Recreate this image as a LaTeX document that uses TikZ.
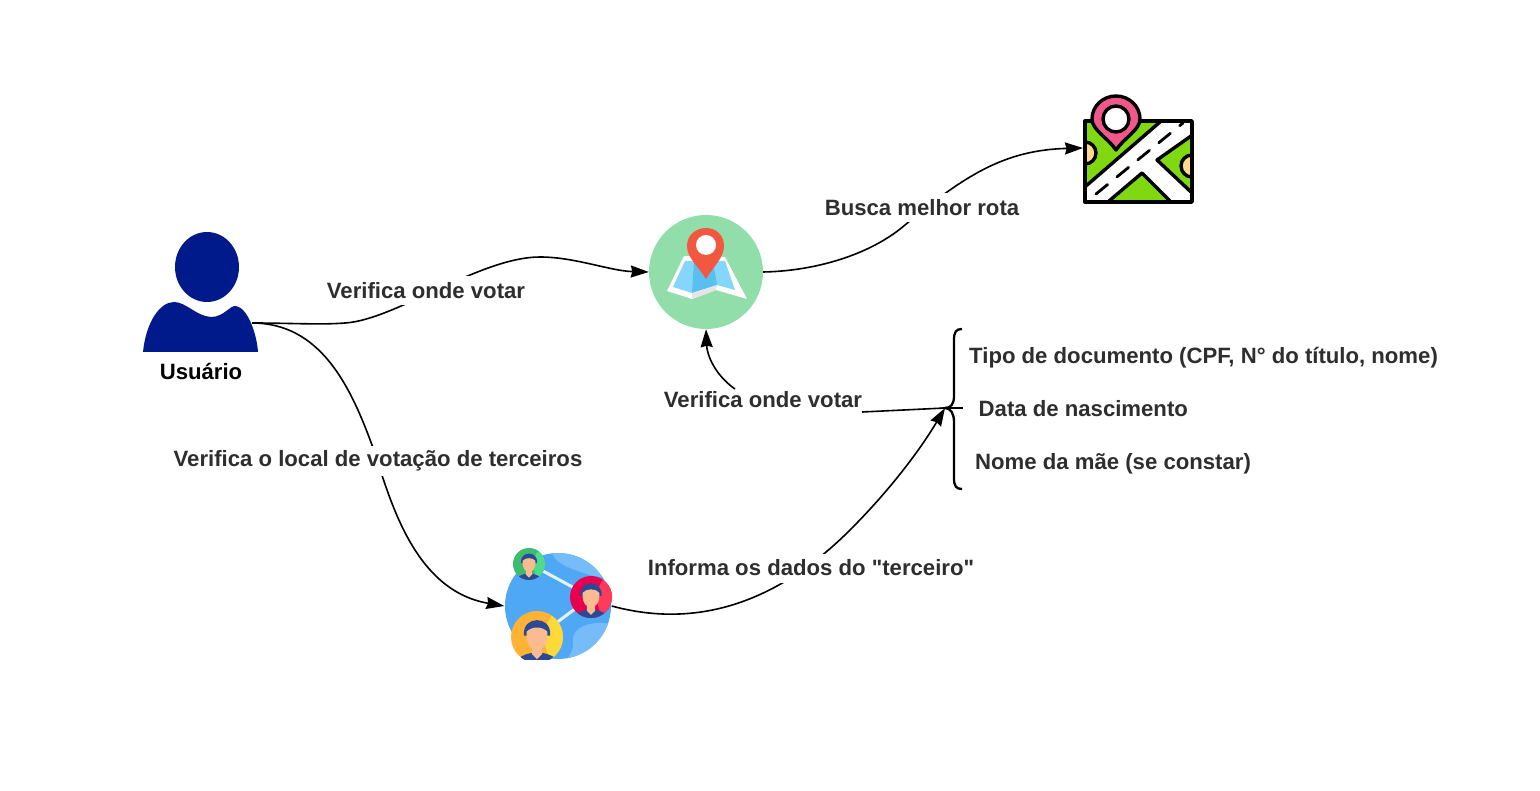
\documentclass[tikz,border=0pt]{standalone}
\usepackage{fontspec}
\setmainfont{Liberation Sans}
\newfontfamily\plainquote{Liberation Sans}
\usetikzlibrary{arrows.meta}
\definecolor{txt}{HTML}{2E2E2E}
\definecolor{navy}{HTML}{001A8C}
\definecolor{mapgreen}{HTML}{91DEAA}
\definecolor{pinred}{HTML}{F4573F}
\definecolor{sky}{HTML}{84D6FC}
\definecolor{sky2}{HTML}{59BFEE}
\definecolor{grass}{HTML}{80D810}
\definecolor{pink}{HTML}{F0578A}
\definecolor{sand}{HTML}{FCD98F}
\definecolor{globe}{HTML}{4FA8F6}
\definecolor{globe2}{HTML}{76BCF8}
\definecolor{skin}{HTML}{F9BB8F}
\definecolor{hair}{HTML}{2C4A94}
\definecolor{pgreen}{HTML}{3DBB6E}
\definecolor{pgreenl}{HTML}{4FDC8A}
\definecolor{pred}{HTML}{E6004F}
\definecolor{predl}{HTML}{FF3B5C}
\definecolor{pora}{HTML}{FFB233}
\definecolor{pyel}{HTML}{FFD93B}
\tikzset{
 lbl/.style={font=\fontsize{22.15}{26}\selectfont\bfseries,text=txt,inner sep=1pt,fill=white},
 gaplbl/.style={lbl,minimum height=29pt},
 conn/.style={draw=black,line width=1.6pt},
 arr/.style={conn,-{Stealth[length=18pt,width=12pt,inset=1.5pt]}},
 icon/.style={inner sep=0pt,minimum width=#1,minimum height=#1,shape=rectangle},
 ink/.style={draw=black,line width=3.4pt,line join=round}
}
\newcommand{\person}[5]{% x y r main light
 \begin{scope}[shift={(#1,#2)}]
 \fill[#4] (0,0) circle (#3);
 \begin{scope}
 \clip (0,0) circle (#3);
 \fill[#5] (0.85*#3,0.05*#3) ellipse (0.55*#3 and 1.0*#3);
 \fill[hair] (0,1.1*#3) ellipse (0.85*#3 and 0.5*#3);
 \fill[skin] (-0.2*#3,0.35*#3) -- (0.2*#3,0.35*#3) -- (0.2*#3,0.65*#3) -- (0,0.85*#3) -- (-0.2*#3,0.65*#3) -- cycle;
 \end{scope}
 \fill[hair] (-0.5*#3,-0.05*#3) .. controls (-0.6*#3,-0.85*#3) and (0.6*#3,-0.85*#3) .. (0.5*#3,-0.05*#3) -- cycle;
 \fill[skin] (-0.4*#3,-0.2*#3) .. controls (-0.2*#3,-0.42*#3) and (0.2*#3,-0.42*#3) .. (0.4*#3,-0.2*#3) .. controls (0.44*#3,0.3*#3) and (0.2*#3,0.5*#3) .. (0,0.5*#3) .. controls (-0.2*#3,0.5*#3) and (-0.44*#3,0.3*#3) .. (-0.4*#3,-0.2*#3) -- cycle;
 \end{scope}}
\begin{document}
\begin{tikzpicture}[x=1pt,y=-1pt]
\useasboundingbox (0,0) rectangle (1540,791);
\fill[white] (0,0) rectangle (1540,791);

% user
\fill[navy] (207,267) ellipse (32 and 35);
\fill[navy] (143,352) .. controls (146,322) and (160,302) .. (174,302) .. controls (186,302) and (196,316) .. (211,317) .. controls (224,317) and (230,305) .. (236,306) .. controls (248,308) and (257,335) .. (258,352) -- cycle;
\node[icon=1pt,anchor=center] (user) at (252,323) {};
\node[font=\fontsize{22.15}{26}\selectfont\bfseries,text=black,inner sep=0pt] (ulabel) at (201,371) {Usuário};

% map icon
\fill[mapgreen] (706,272) circle (57);
\node[icon=114pt] (map) at (706,272) {};
\fill[white] (667,291) -- (684,256) -- (725,257) -- (747,299) -- (716,290) -- (692,299) -- cycle;
\fill[sky] (673,287) -- (685,261) -- (725,261) -- (735,290) -- (717,285) -- (692,293) -- cycle;
\fill[sky2] (694,262) -- (713,262) -- (717,285) -- (692,293) -- cycle;
\fill[black!10] (692,293) -- (717,285) -- (716,290) -- (692,299) -- cycle;
\fill[pinred] (706,279) .. controls (699,267) and (687,258) .. (687,246) .. controls (687,235) and (696,228) .. (706,228) .. controls (716,228) and (724,235) .. (724,246) .. controls (724,258) and (713,267) .. (706,279) -- cycle;
\fill[white] (706,245) circle (10);

% route map icon
\node[icon=106pt] (route) at (1138,161) {};
\coordinate (routein) at (1083,148);
\fill[grass] (1085,121) rectangle (1192,202);
\fill[white] (1086,186) -- (1160,122) -- (1191,122) -- (1191,136) -- (1157,160) -- (1191,192) -- (1191,201) -- (1170,201) -- (1142,173) -- (1109,201) -- (1086,201) -- cycle;
\draw[line width=3.4pt,line join=round] (1086,186) -- (1160,122);
\draw[line width=3.4pt,line join=round] (1191,136) -- (1157,160) -- (1191,192);
\draw[line width=3.4pt,line join=round] (1109,201) -- (1142,173) -- (1170,201);
\draw[line width=2.8pt,line cap=round,dash pattern=on 15pt off 12pt] (1096,194) -- (1183,123);
\fill[sand,draw=black,line width=3.4pt] (1085,142) arc (-90:90:11) -- cycle;
\fill[sand,draw=black,line width=3.4pt] (1192,155) arc (270:90:11) -- cycle;
\draw[ink] (1085,121) rectangle (1192,202);
\fill[pink,draw=black,line width=3.4pt,line join=round] (1116,150) .. controls (1108,138) and (1092,130) .. (1092,119) .. controls (1092,106) and (1103,96) .. (1116,96) .. controls (1129,96) and (1140,106) .. (1140,119) .. controls (1140,130) and (1124,138) .. (1116,150) -- cycle;
\fill[white,draw=black,line width=3.4pt] (1116,119) circle (13);

% people icon
\node[icon=107pt] (group) at (558,606) {};
\fill[globe] (558,606) circle (53);
\begin{scope}
\clip (558,606) circle (53);
\fill[globe2] (552,553) .. controls (556,565) and (575,570) .. (590,575) .. controls (600,578) and (612,580) .. (615,560) -- (590,545) -- cycle;
\fill[globe2] (611,624) .. controls (590,620) and (572,628) .. (573,640) .. controls (574,650) and (570,655) .. (565,662) -- (610,662) -- cycle;
\end{scope}
\draw[white!85!globe,line width=3pt] (530,564) -- (591,597) -- (536,638);
\person{529}{564}{16}{pgreen}{pgreenl}
\person{591}{597}{21}{pred}{predl}
\begin{scope}
\clip (480,540) rectangle (640,659);
\person{537}{637}{26}{pora}{pyel}
\end{scope}

% connectors
\coordinate (bracetip) at (945,408);
\coordinate (tickend) at (963,408);
\coordinate (lfoot) at (862,412);
\coordinate (lhead) at (735,389);
\draw[arr] (user.center) .. controls (290,323) and (320,325) .. (345,323) .. controls (395,320) and (480,257) .. (540,257) .. controls (575,257) and (610,271) .. (map.west);
\draw[arr] (map.east) .. controls (815,271) and (870,255) .. (905,225) .. controls (965,175) and (1005,150) .. (routein);
\draw[arr] (user.center) .. controls (320,323) and (350,385) .. (372,445) .. controls (388,490) and (410,590) .. (group.west);
\draw[arr] (group.east) .. controls (700,630) and (780,600) .. (850,530) .. controls (890,490) and (920,450) .. (bracetip);
\draw[conn] (bracetip) -- (lfoot);
\draw[arr] (lhead) .. controls (715,375) and (707,355) .. (map.south);
\node[gaplbl] (l1) at (426,290.5) {Verifica onde votar};
\node[gaplbl] (l2) at (922,207.5) {Busca melhor rota};
\node[gaplbl] (l3) at (378,461) {Verifica o local de votação de terceiros};
\node[gaplbl] (l4) at (811,568) {Informa os dados do {\plainquote\bfseries "}terceiro{\plainquote\bfseries "}};
\node[lbl,fill=none] (l5) at (763,400) {Verifica onde votar};

% brace
\draw[conn,line width=2.3pt] (962,329) .. controls (956,329) and (954,332) .. (954,340) -- (954,396) .. controls (954,404) and (951,408) .. (bracetip) .. controls (951,408) and (954,414) .. (954,422) -- (954,478) .. controls (954,486) and (956,489) .. (962,489);
\draw[conn] (bracetip) -- (tickend);

\node[lbl,fill=none,anchor=west] (t1) at (968,357.5) {Tipo de documento (CPF, N° do título, nome)};
\node[lbl,fill=none,anchor=west] (t2) at (977.5,408.5) {Data de nascimento};
\node[lbl,fill=none,anchor=west] (t3) at (974,463.5) {Nome da mãe (se constar)};
\end{tikzpicture}
\end{document}
